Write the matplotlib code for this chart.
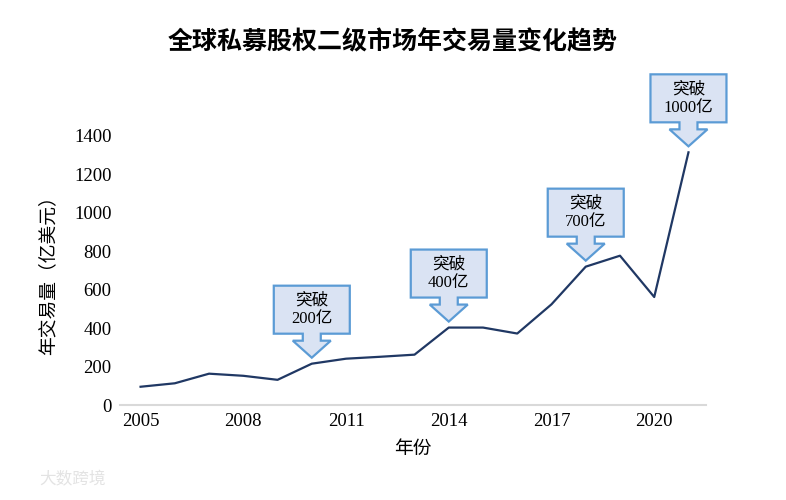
import matplotlib
matplotlib.use("Agg")
import matplotlib.pyplot as plt
import matplotlib.transforms as mtransforms
from matplotlib.patches import Polygon

plt.rcParams["font.family"] = ["Liberation Serif", "Noto Sans CJK SC"]

# Data
years = list(range(2005, 2022))
volume = [95, 113, 163, 152, 131, 215, 241, 251, 262, 403, 403, 372, 524, 720, 777, 562, 1315]
callout_years = [2010, 2014, 2018, 2021]
callout_labels = ["突破\n200亿", "突破\n400亿", "突破\n700亿", "突破\n1000亿"]
xtick_years = [2005, 2008, 2011, 2014, 2017, 2020]

_line = "#203864"
_fill = "#dae3f3"
_edge = "#5b9bd5"

fig = plt.figure(figsize=(7.86, 5.0), dpi=100)
ax = fig.add_axes([0.1527, 0.19, 0.745, 0.538])

ax.plot(years, volume, color=_line, linewidth=1.6)

ax.set_xlim(2004.4, 2021.5)
ax.set_ylim(0, 1400)
ax.set_xticks(xtick_years)
ax.set_yticks(range(0, 1401, 200))
ax.tick_params(length=0, labelsize=13.5, pad=6)

for side in ["top", "right", "left"]:
    ax.spines[side].set_visible(False)
ax.spines["bottom"].set_color("#d9d9d9")
ax.spines["bottom"].set_linewidth(1.5)

ax.set_xlabel("年份", fontsize=13.5, labelpad=8)
ax.set_ylabel("年交易量（亿美元）", fontsize=13.5, labelpad=12)
fig.text(0.5, 0.915, "全球私募股权二级市场年交易量变化趋势", ha="center", va="center",
         fontsize=18, fontweight="bold", family="Noto Sans CJK SC")

# Down-arrow callouts, shapes in pixels relative to the data point
for yr, label in zip(callout_years, callout_labels):
    val = volume[years.index(yr)]
    wide = len(label) > 6
    hw = 38 if wide else 35
    bh = 48 if wide else 44
    gap = 6
    pts = [(0, 0), (-19, 17), (-9, 17), (-9, 24), (-hw, 24), (-hw, 24 + bh),
           (hw, 24 + bh), (hw, 24), (9, 24), (9, 17), (19, 17)]
    pts = [(px / 100.0, (py + gap) / 100.0) for px, py in pts]
    trans = fig.dpi_scale_trans + mtransforms.ScaledTranslation(yr, val, ax.transData)
    ax.add_patch(Polygon(pts, closed=True, facecolor=_fill, edgecolor=_edge,
                         linewidth=1.6, transform=trans, clip_on=False, zorder=3))
    ax.text(0, (24 + gap + bh / 2) / 100.0, label, transform=trans, ha="center",
            va="center", fontsize=12, linespacing=1.2, zorder=4)

fig.text(0.05, 0.04, "大数跨境", fontsize=12, color="#e3e3e3", family="Noto Sans CJK SC",
         ha="left", va="center")

fig.savefig("out.png", dpi=100)
